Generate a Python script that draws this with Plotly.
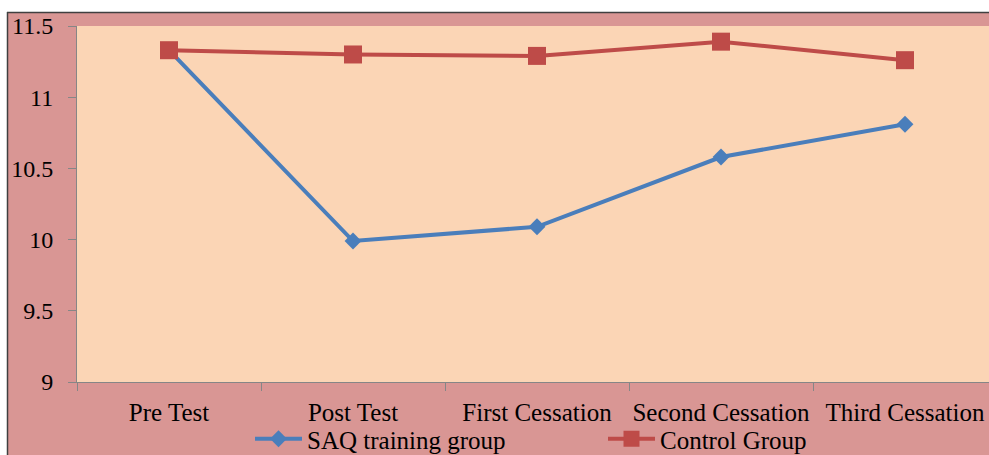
import plotly.graph_objects as go

categories = ["Pre Test", "Post Test", "First Cessation", "Second Cessation", "Third Cessation"]
saq_values = [11.33, 9.99, 10.09, 10.58, 10.81]
control_values = [11.33, 11.30, 11.29, 11.39, 11.26]
y_ticks = [9, 9.5, 10, 10.5, 11, 11.5]
y_tick_labels = ["9", "9.5", "10", "10.5", "11", "11.5"]

W, H = 989, 455
L, R, T, B = 77, 0, 26, 73
pw = W - L - R
ph = H - T - B

def px_x(p):
    return (p - L) / pw

def px_y(p):
    return (H - B - p) / ph

fam = "Liberation Serif, Times New Roman, serif"
font = dict(family=fam, size=24, color="black")
font25 = dict(family=fam, size=25, color="black")

fig = go.Figure()
fig.add_trace(go.Scatter(
    x=categories, y=saq_values, name="SAQ training group", mode="lines+markers",
    line=dict(color="#4A7EBB", width=4),
    marker=dict(symbol="diamond", size=13, color="#4A7EBB"),
))
fig.add_trace(go.Scatter(
    x=categories, y=control_values, name="Control Group", mode="lines+markers",
    line=dict(color="#BE4B48", width=4),
    marker=dict(symbol="square", size=18, color="#BE4B48"),
))

cat_w = pw / 184.0
fig.update_xaxes(
    type="category", range=[-0.5, -0.5 + cat_w],
    showline=True, linecolor="#868686", linewidth=1,
    ticks="outside", ticklen=8, tickcolor="#868686", tickson="boundaries",
    showgrid=False, zeroline=False, tickfont=font25, ticklabelstandoff=8,
    tickangle=0, automargin=False,
)
fig.update_yaxes(
    range=[9, 11.5], tickvals=y_ticks, ticktext=y_tick_labels,
    showline=True, linecolor="#868686", linewidth=1,
    ticks="outside", ticklen=8, tickcolor="#868686",
    showgrid=False, zeroline=False, tickfont=font, ticklabelstandoff=10,
    automargin=False,
)

shapes = [
    dict(type="rect", xref="paper", yref="paper", layer="below",
         x0=px_x(-5), x1=px_x(W + 5), y0=px_y(-5), y1=px_y(12),
         fillcolor="white", line=dict(width=0)),
    dict(type="rect", xref="paper", yref="paper", layer="below",
         x0=px_x(-5), x1=px_x(7), y0=px_y(H + 5), y1=px_y(-5),
         fillcolor="white", line=dict(width=0)),
    dict(type="line", xref="paper", yref="paper", layer="below",
         x0=px_x(7), x1=px_x(W + 5), y0=px_y(12.5), y1=px_y(12.5),
         line=dict(color="#404040", width=1.5)),
    dict(type="line", xref="paper", yref="paper", layer="below",
         x0=px_x(7.5), x1=px_x(7.5), y0=px_y(12), y1=px_y(H + 5),
         line=dict(color="#404040", width=1.5)),
]

fig.update_layout(
    width=W, height=H,
    margin=dict(l=L, r=R, t=T, b=B, pad=0, autoexpand=False),
    paper_bgcolor="#D99694",
    plot_bgcolor="#FBD5B5",
    font=font,
    shapes=shapes,
    showlegend=True,
    legend=dict(
        orientation="h", x=px_x(250), xanchor="left", y=px_y(439), yanchor="middle",
        bgcolor="rgba(0,0,0,0)", font=font25, itemwidth=47,
        entrywidth=291, entrywidthmode="pixels", tracegroupgap=0,
    ),
)

fig.write_html(
    "out.html",
    config={"displayModeBar": False},
    post_script="document.body.style.margin='0';document.body.style.overflow='hidden';",
)
